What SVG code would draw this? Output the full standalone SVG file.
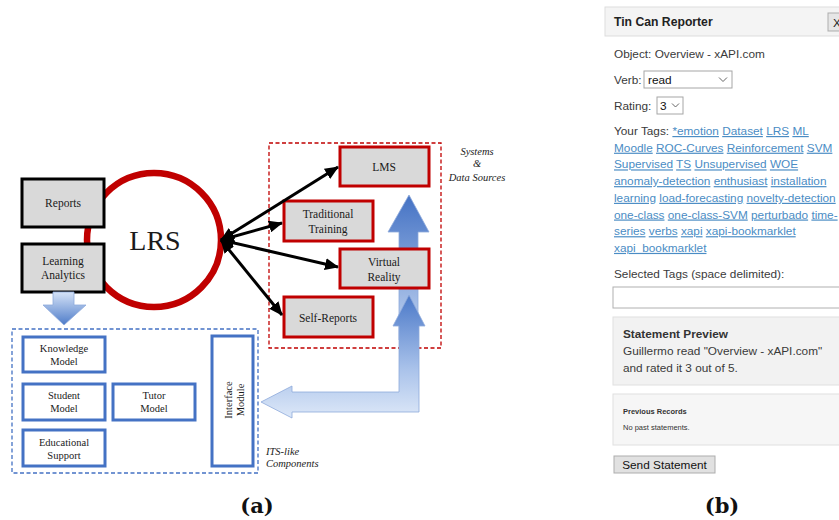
<svg xmlns="http://www.w3.org/2000/svg" width="839" height="520" viewBox="0 0 839 520">
<defs>
<style>
.sf{font-family:"Liberation Serif","Times New Roman",serif;fill:#1a1a1a}
.lbl{font-size:11.5px;text-anchor:middle}
.its{font-size:10.5px;text-anchor:middle}
.it{font-family:"Liberation Serif",serif;font-style:italic;font-size:10.5px;fill:#222}
.gbox{fill:#D9D9D9;stroke:#000;stroke-width:3}
.rbox{fill:#D9D9D9;stroke:#C00000;stroke-width:3}
.bbox{fill:#fff;stroke:#4472C4;stroke-width:3}
.conn{stroke:#000;stroke-width:3;fill:none;marker-start:url(#ah);marker-end:url(#ah)}
.ss{font-family:"Liberation Sans",Arial,sans-serif;font-size:11.8px;fill:#3a3a3a}
.lk{fill:#4A8CC4;text-decoration:underline}
.cap{font-family:"DejaVu Serif","Liberation Serif",serif;font-weight:bold;font-size:21px;fill:#111;text-anchor:middle}
.barrow{stroke:#8EA9DB;stroke-width:0.8}
</style>
<marker id="ah" markerUnits="userSpaceOnUse" markerWidth="14" markerHeight="12" refX="13" refY="6" orient="auto-start-reverse">
<path d="M0,0 L14,6 L0,12 Z" fill="#000"/>
</marker>
<linearGradient id="gDown" gradientUnits="userSpaceOnUse" x1="0" y1="292" x2="0" y2="325">
<stop offset="0" stop-color="#D6E3F7"/><stop offset="1" stop-color="#4E7CC9"/>
</linearGradient>
<linearGradient id="gUp" gradientUnits="userSpaceOnUse" x1="0" y1="195" x2="0" y2="340">
<stop offset="0" stop-color="#4472C4"/><stop offset="1" stop-color="#C4D6F2"/>
</linearGradient>
<linearGradient id="gBent" gradientUnits="userSpaceOnUse" x1="0" y1="295" x2="0" y2="418">
<stop offset="0" stop-color="#4A78C8"/><stop offset="0.6" stop-color="#A9C2EA"/><stop offset="1" stop-color="#DDE8F8"/>
</linearGradient>
</defs>
<rect width="839" height="520" fill="#fff"/>

<!-- Panel (a) -->
<g id="its-frame">
<rect x="12" y="329" width="246" height="144" fill="none" stroke="#4472C4" stroke-width="1.3" stroke-dasharray="4,2.5"/>
<text class="it" x="266" y="455">ITS-like</text>
<text class="it" x="266" y="467">Components</text>
</g>
<g id="systems-frame">
<rect x="269" y="143" width="172" height="205" fill="none" stroke="#C00000" stroke-width="1.3" stroke-dasharray="4,2.5"/>
<text class="it" x="477" y="155" text-anchor="middle">Systems</text>
<text class="it" x="477" y="167" text-anchor="middle">&amp;</text>
<text class="it" x="477" y="181" text-anchor="middle">Data Sources</text>
</g>

<g id="lrs">
<circle cx="154" cy="240" r="67" fill="#fff" stroke="#C00000" stroke-width="6.5"/>
<text class="sf" x="155" y="250" font-size="28" text-anchor="middle">LRS</text>
</g>
<g id="reports">
<rect class="gbox" x="22" y="179" width="82" height="48"/>
<text class="sf lbl" x="63" y="207">Reports</text>
</g>
<g id="learning-analytics">
<rect class="gbox" x="22" y="244" width="82" height="48"/>
<text class="sf lbl" x="63" y="265">Learning</text>
<text class="sf lbl" x="63" y="279">Analytics</text>
</g>

<g id="big-arrows">
<path class="barrow" d="M53,292 L74,292 L74,305 L86,305 L64,325 L43,305 L53,305 Z" fill="url(#gDown)"/>
<path class="barrow" d="M399,340 L399,232 L388,232 L409,195 L429,232 L418,232 L418,340 Z" fill="url(#gUp)"/>
<path class="barrow" d="M261,402 L292,386 L292,392 L399,392 L399,326 L393,326 L409,295 L425,326 L419,326 L419,412 L292,412 L292,418 Z" fill="url(#gBent)"/>
</g>

<g id="lms">
<rect class="rbox" x="340" y="147" width="89" height="39"/>
<text class="sf lbl" x="384" y="171">LMS</text>
</g>
<g id="traditional-training">
<rect class="rbox" x="284" y="201" width="89" height="40"/>
<text class="sf lbl" x="328" y="218">Traditional</text>
<text class="sf lbl" x="328" y="233">Training</text>
</g>
<g id="virtual-reality">
<rect class="rbox" x="340" y="249" width="89" height="39"/>
<text class="sf lbl" x="384" y="266">Virtual</text>
<text class="sf lbl" x="384" y="281">Reality</text>
</g>
<g id="self-reports">
<rect class="rbox" x="284" y="297" width="89" height="40"/>
<text class="sf lbl" x="328" y="322">Self-Reports</text>
</g>

<g id="connectors">
<line class="conn" x1="221" y1="240" x2="338" y2="167"/>
<line class="conn" x1="221" y1="240" x2="282" y2="223"/>
<line class="conn" x1="221" y1="240" x2="338" y2="267"/>
<line class="conn" x1="221" y1="240" x2="282" y2="315"/>
</g>

<g id="knowledge-model">
<rect class="bbox" x="23" y="337" width="82" height="35"/>
<text class="sf its" x="64" y="352">Knowledge</text>
<text class="sf its" x="64" y="365">Model</text>
</g>
<g id="student-model">
<rect class="bbox" x="23" y="384" width="82" height="36"/>
<text class="sf its" x="64" y="399">Student</text>
<text class="sf its" x="64" y="412">Model</text>
</g>
<g id="tutor-model">
<rect class="bbox" x="113" y="384" width="82" height="36"/>
<text class="sf its" x="154" y="399">Tutor</text>
<text class="sf its" x="154" y="412">Model</text>
</g>
<g id="educational-support">
<rect class="bbox" x="23" y="430" width="82" height="36"/>
<text class="sf its" x="64" y="446">Educational</text>
<text class="sf its" x="64" y="459">Support</text>
</g>
<g id="interface-module">
<rect class="bbox" x="212" y="336" width="41" height="130"/>
<text class="sf its" transform="translate(232,400) rotate(-90)">Interface</text>
<text class="sf its" transform="translate(244,400) rotate(-90)">Module</text>
</g>

<text class="cap" x="257" y="513">(a)</text>

<!-- Panel (b) -->
<g id="reporter">
<rect x="605" y="7" width="240" height="29" fill="#F4F4F4" stroke="#DDDDDD"/>
<text class="ss" x="614" y="26" font-weight="bold" style="fill:#222;font-size:12.2px">Tin Can Reporter</text>
<rect x="828" y="13" width="20" height="18" fill="#E6E6E6" stroke="#ADADAD"/>
<text class="ss" x="833" y="27" style="fill:#222">X</text>

<text class="ss" x="614" y="58">Object: Overview - xAPI.com</text>
<text class="ss" x="614" y="84">Verb:</text>
<rect x="644" y="71" width="88" height="17" fill="#fff" stroke="#A6A6A6"/>
<text class="ss" x="648" y="84" style="fill:#111">read</text>
<path d="M719,77.5 L723,81.5 L727,77.5" fill="none" stroke="#666" stroke-width="1"/>
<text class="ss" x="614" y="110">Rating:</text>
<rect x="657" y="97" width="26" height="17" fill="#fff" stroke="#A6A6A6"/>
<text class="ss" x="660" y="110" style="fill:#111">3</text>
<path d="M672,103.5 L675.5,107 L679,103.5" fill="none" stroke="#666" stroke-width="1"/>

<text class="ss" x="614" y="135">Your Tags: <tspan class="lk">*emotion</tspan> <tspan class="lk">Dataset</tspan> <tspan class="lk">LRS</tspan> <tspan class="lk">ML</tspan></text>
<text class="ss" x="614" y="151.7"><tspan class="lk">Moodle</tspan> <tspan class="lk">ROC-Curves</tspan> <tspan class="lk">Reinforcement</tspan> <tspan class="lk">SVM</tspan></text>
<text class="ss" x="614" y="168.4"><tspan class="lk">Supervised</tspan> <tspan class="lk">TS</tspan> <tspan class="lk">Unsupervised</tspan> <tspan class="lk">WOE</tspan></text>
<text class="ss" x="614" y="185.1"><tspan class="lk">anomaly-detection</tspan> <tspan class="lk">enthusiast</tspan> <tspan class="lk">installation</tspan></text>
<text class="ss" x="614" y="201.8"><tspan class="lk">learning</tspan> <tspan class="lk">load-forecasting</tspan> <tspan class="lk">novelty-detection</tspan></text>
<text class="ss" x="614" y="218.5"><tspan class="lk">one-class</tspan> <tspan class="lk">one-class-SVM</tspan> <tspan class="lk">perturbado</tspan> <tspan class="lk">time-</tspan></text>
<text class="ss" x="614" y="235.2"><tspan class="lk">series</tspan> <tspan class="lk">verbs</tspan> <tspan class="lk">xapi</tspan> <tspan class="lk">xapi-bookmarklet</tspan></text>
<text class="ss" x="614" y="251.9"><tspan class="lk">xapi_bookmarklet</tspan></text>

<text class="ss" x="614" y="278">Selected Tags (space delimited):</text>
<rect x="613" y="287" width="240" height="21" fill="#fff" stroke="#B0B0B0"/>

<rect x="613" y="317" width="240" height="68" fill="#F2F2F2" stroke="#E0E0E0"/>
<text class="ss" x="623" y="338" font-weight="bold" style="fill:#333">Statement Preview</text>
<text class="ss" x="623" y="355">Guillermo read "Overview - xAPI.com"</text>
<text class="ss" x="623" y="372">and rated it 3 out of 5.</text>

<rect x="613" y="394" width="240" height="51" fill="#F6F6F6" stroke="#E0E0E0"/>
<text class="ss" x="623" y="414" font-weight="bold" style="font-size:7.5px;fill:#333">Previous Records</text>
<text class="ss" x="623" y="430" style="font-size:7.5px;fill:#333">No past statements.</text>

<rect x="614" y="456" width="101" height="17" fill="#E1E1E1" stroke="#ADADAD"/>
<text class="ss" x="664.5" y="469" text-anchor="middle" style="fill:#111">Send Statement</text>
</g>

<text class="cap" x="722" y="513">(b)</text>
</svg>
